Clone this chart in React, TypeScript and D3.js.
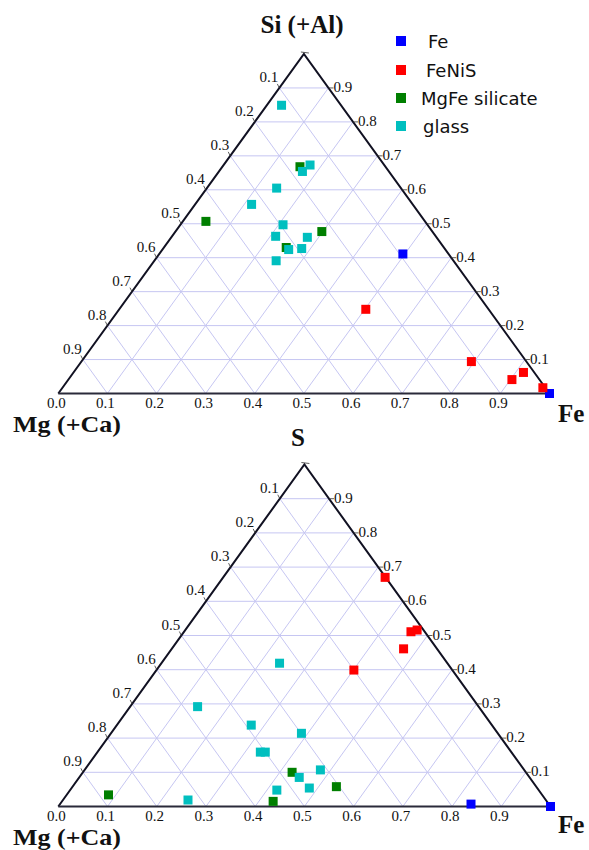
import React from "react";
import * as d3 from "d3";

// Each point: [Fe fraction, apex fraction (Si or S)]
const topFe: [number, number][] = [[0.496, 0.411], [1.0, 0.0]];
const topFeNiS: [number, number][] = [[0.502, 0.248], [0.794, 0.094], [0.903, 0.041], [0.916, 0.062], [0.978, 0.017]];
const topMgFe: [number, number][] = [[0.158, 0.668], [0.047, 0.507], [0.249, 0.43], [0.298, 0.477]];
const topGlass: [number, number][] = [
  [0.03, 0.849], [0.176, 0.673], [0.17, 0.654], [0.142, 0.605], [0.115, 0.557], [0.209, 0.497],
  [0.211, 0.463], [0.257, 0.424], [0.248, 0.391], [0.277, 0.46], [0.282, 0.427],
];

const botFe: [number, number][] = [[0.835, 0.007], [1.0, 0.0]];
const botFeNiS: [number, number][] = [[0.329, 0.67], [0.461, 0.511], [0.471, 0.516], [0.471, 0.461], [0.401, 0.399]];
const botMgFe: [number, number][] = [[0.085, 0.034], [0.429, 0.015], [0.425, 0.1], [0.536, 0.058]];
const botGlass: [number, number][] = [
  [0.24, 0.419], [0.137, 0.292], [0.273, 0.238], [0.331, 0.159], [0.341, 0.159], [0.42, 0.048],
  [0.254, 0.019], [0.387, 0.214], [0.447, 0.085], [0.483, 0.054], [0.479, 0.107],
];

const seriesNames = ["Fe", "FeNiS", "MgFe silicate", "glass"];
const seriesColors = ["#0000ff", "#ff0000", "#007f00", "#00bfbf"];
const leftTickLabels = ["0.1", "0.2", "0.3", "0.4", "0.5", "0.6", "0.7", "0.8", "0.9"];
const rightTickLabels = ["0.9", "0.8", "0.7", "0.6", "0.5", "0.4", "0.3", "0.2", "0.1"];
const bottomTickLabels = ["0.0", "0.1", "0.2", "0.3", "0.4", "0.5", "0.6", "0.7", "0.8", "0.9"];

const serif = "'Liberation Serif', 'Times New Roman', serif";
const sans = "'DejaVu Sans', sans-serif";
const gridColor = "#c6c6f2";
const tickFont = 15;
const titleFont = 25;

type TriProps = {
  left: number; right: number; apexY: number; baseY: number;
  series: [number, number][][];
  apexLabel: string; apexLabelX: number; apexLabelY: number;
  leftLabelY: number; rightLabelY: number;
};

function Ternary(p: TriProps) {
  const xs = d3.scaleLinear().domain([0, 1]).range([p.left, p.right]);
  const ys = d3.scaleLinear().domain([0, 1]).range([p.baseY, p.apexY]);
  const pt = (fe: number, a: number): [number, number] => [xs(fe + a / 2), ys(a)];
  const line = d3.line();
  const ticks = d3.range(1, 10).map((k) => k / 10);
  const grid: [number, number][][] = [];
  ticks.forEach((t) => {
    grid.push([pt(0, t), pt(1 - t, t)]);
    grid.push([pt(t, 0), pt(t, 1 - t)]);
    grid.push([pt(1 - t, 0), pt(0, 1 - t)]);
  });
  const sz = 9;
  return (
    <g>
      {grid.map((g, i) => (
        <path key={i} d={line(g) || ""} stroke={gridColor} strokeWidth={1} fill="none" />
      ))}
      <path d={line([pt(0, 0), pt(0, 1), pt(1, 0)]) || ""} stroke="#111122" strokeWidth={2} fill="none" />
      <path d={line([pt(0, 0), pt(1, 0)]) || ""} stroke="#2a2a3a" strokeWidth={2.2} fill="none" />
      <path d={line([[pt(0, 1)[0] - 3, pt(0, 1)[1] - 2], [pt(0, 1)[0] + 5, pt(0, 1)[1] - 1]]) || ""} stroke="#333" strokeWidth={0.8} />
      {leftTickLabels.map((lab, i) => {
        const [x, y] = pt(0, 1 - ticks[i]);
        return (
          <g key={"l" + i}>
            <path d={line([[x, y], [x - 2, y - 4]]) || ""} stroke="#333" strokeWidth={0.8} />
            <text x={x - 1} y={y - 6} textAnchor="end" fontFamily={serif} fontSize={tickFont} fill="#111">{lab}</text>
          </g>
        );
      })}
      {rightTickLabels.map((lab, i) => {
        const a = 1 - ticks[i];
        const [x, y] = pt(1 - a, a);
        return (
          <g key={"r" + i}>
            <path d={line([[x, y], [x + 5, y]]) || ""} stroke="#333" strokeWidth={0.8} />
            <text x={x + 5} y={y + 4} fontFamily={serif} fontSize={tickFont} fill="#111">{lab}</text>
          </g>
        );
      })}
      {bottomTickLabels.map((lab, i) => {
        const [x, y] = pt(i / 10, 0);
        return (
          <text key={"b" + i} x={x - 2} y={y + 14.5} textAnchor="middle" fontFamily={serif} fontSize={tickFont} fill="#111">{lab}</text>
        );
      })}
      {p.series.map((s, si) =>
        s.map((d, j) => {
          const [x, y] = pt(d[0], d[1]);
          return <rect key={si + "-" + j} x={x - sz / 2} y={y - sz / 2} width={sz} height={sz} fill={seriesColors[si]} />;
        })
      )}
      <text x={p.apexLabelX} y={p.apexLabelY} textAnchor="middle" fontFamily={serif} fontWeight="bold" fontSize={titleFont} fill="#111">{p.apexLabel}</text>
      <text x={13} y={p.leftLabelY} fontFamily={serif} fontWeight="bold" fontSize={23} textLength={108} lengthAdjust="spacingAndGlyphs" fill="#111">Mg (+Ca)</text>
      <text x={558} y={p.rightLabelY} fontFamily={serif} fontWeight="bold" fontSize={titleFont} fill="#111">Fe</text>
    </g>
  );
}

const legendY = [41, 70, 98, 126];
const legendTextX = [428, 426, 421, 423];

export default function App() {
  return (
    <svg width={589} height={850} style={{ position: "absolute", left: 0, top: 0, background: "#fff" }}>
      <rect width={589} height={850} fill="#fff" />
      <Ternary left={58.3} right={549.5} apexY={54} baseY={393.5}
        series={[topFe, topFeNiS, topMgFe, topGlass]}
        apexLabel="Si (+Al)" apexLabelX={302} apexLabelY={33}
        leftLabelY={432} rightLabelY={422} />
      <Ternary left={58.3} right={550.5} apexY={464.5} baseY={806.5}
        series={[botFe, botFeNiS, botMgFe, botGlass]}
        apexLabel="S" apexLabelX={298} apexLabelY={446}
        leftLabelY={845} rightLabelY={833} />
      {seriesNames.map((n, i) => (
        <g key={n}>
          <rect x={396} y={legendY[i] - 5} width={10} height={10} fill={seriesColors[i]} />
          <text x={legendTextX[i]} y={legendY[i] + 6.5} fontFamily={sans} fontSize={18} fill="#111">{n}</text>
        </g>
      ))}
    </svg>
  );
}
